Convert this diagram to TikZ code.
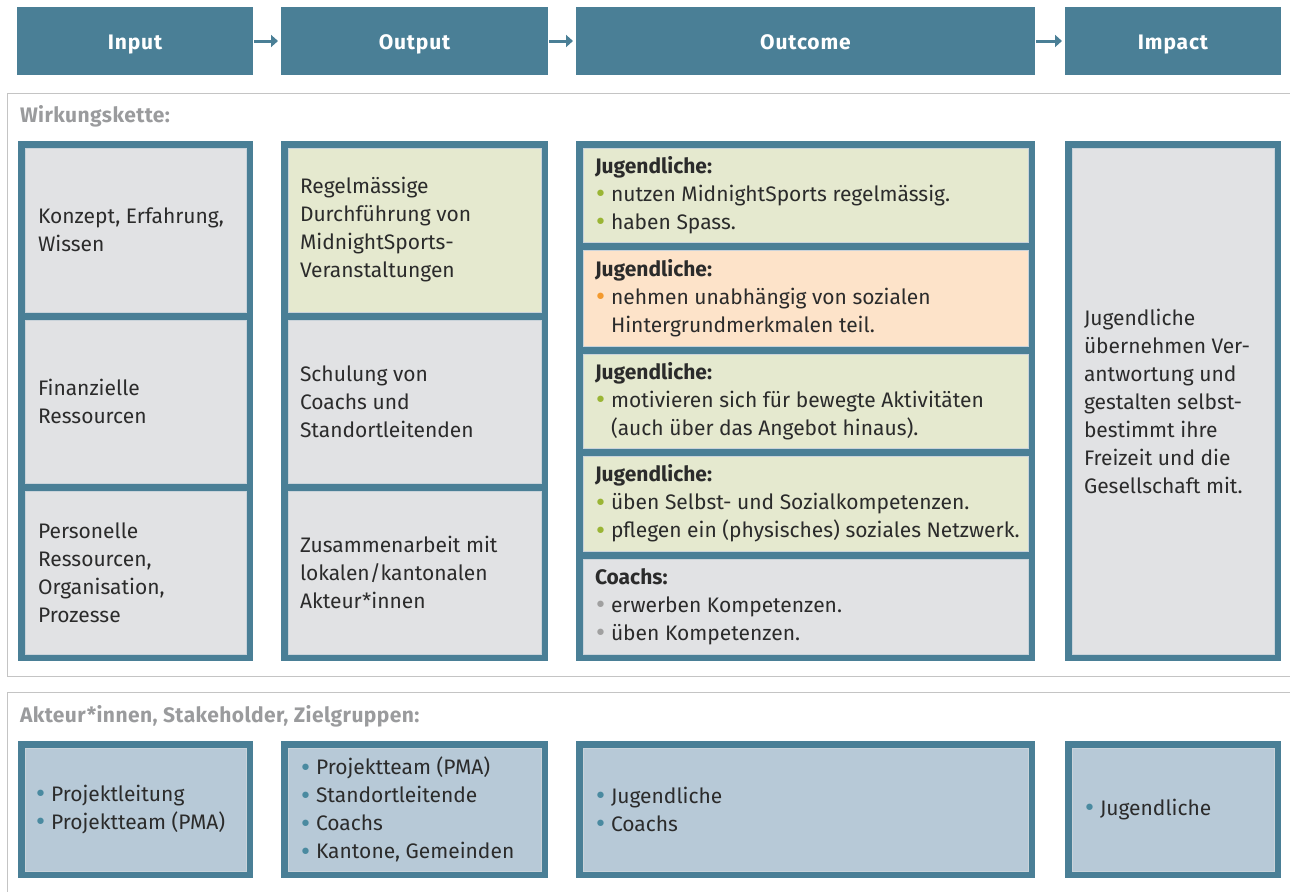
\documentclass[tikz,border=0pt]{standalone}
\usepackage{fontspec}
\setmainfont{Fira Sans}
\newfontfamily\dejavu{DejaVu Sans}
\usetikzlibrary{arrows.meta}
\definecolor{mteal}{HTML}{4A7F96}
\definecolor{cgray}{HTML}{E1E2E4}
\definecolor{cgreen}{HTML}{E5E9CF}
\definecolor{corange}{HTML}{FDE3C9}
\definecolor{cblue}{HTML}{B7C9D7}
\definecolor{cline}{HTML}{C9D3DA}
\definecolor{dtext}{HTML}{2B2B2B}
\definecolor{ltext}{HTML}{9A9B9D}
\definecolor{frameline}{HTML}{C4C4C4}
\definecolor{bgreen}{HTML}{9AB534}
\definecolor{borange}{HTML}{F39A2E}
\definecolor{bgray}{HTML}{A0A0A0}
\definecolor{bteal}{HTML}{4A8AA0}
\newcommand\bul[1]{\makebox[16pt][l]{\hspace*{-1pt}\color{#1}{\dejavu\fontsize{22}{0}\selectfont\raisebox{-0.5pt}{•}}}}
\newcommand\ind{\hspace*{16pt}}
\tikzset{
  every node/.style={inner sep=0pt, outer sep=0pt},
  hdr/.style={fill=mteal, anchor=north west, text=white, text height=18pt, text depth=1.6pt, font=\fontsize{21}{24}\selectfont\bfseries\addfontfeatures{LetterSpace=4}},
  colbox/.style={fill=mteal, anchor=north west},
  cellbox/.style={draw=cline, line width=0.6pt, anchor=north west},
  txt/.style={anchor=west, align=left, text=dtext, font=\fontsize{21}{28}\selectfont},
  sect/.style={anchor=base west, text=ltext, font=\fontsize{21}{24}\selectfont\bfseries\addfontfeatures{LetterSpace=2}},
  harrow/.style={draw=mteal, line width=3pt, -{Triangle[length=7pt,width=12pt]}},
}
\begin{document}
\begin{tikzpicture}[x=1pt,y=-1pt]
\useasboundingbox (0,0) rectangle (1290,892);
% headers
\node[hdr, minimum width=236pt, minimum height=68pt] (hin) at (17,7) {Input};
\node[hdr, minimum width=267pt, minimum height=68pt] (hout) at (281,7) {Output};
\node[hdr, minimum width=459pt, minimum height=68pt] (hoc) at (576,7) {Outcome};
\node[hdr, minimum width=216pt, minimum height=68pt] (him) at (1065,7) {Impact};
\draw[harrow] (hin.east) ++(1,0) -- ([xshift=-3pt]hout.west);
\draw[harrow] (hout.east) ++(1,0) -- ([xshift=-3pt]hoc.west);
\draw[harrow] (hoc.east) ++(1,0) -- ([xshift=-3pt]him.west);
% frames
\draw[frameline, line width=1pt] (1290,93) -- (7,93) -- (7,676) -- (1290,676);
\draw[frameline, line width=1pt] (1290,692) -- (7,692) -- (7,892);
\node[sect] (s1) at (20,122) {Wirkungskette:};
\node[sect] (s2) at (20,722) {Akteur*innen, Stakeholder, Zielgruppen:};
% ---- Input column
\node[colbox, minimum width=235pt, minimum height=520pt] (cin) at (18,141) {};
\node[cellbox, fill=cgray, minimum width=221pt, minimum height=164pt] (in1) at (25,148) {};
\node[cellbox, fill=cgray, minimum width=221pt, minimum height=163pt] (in2) at (25,320) {};
\node[cellbox, fill=cgray, minimum width=221pt, minimum height=163pt] (in3) at (25,491) {};
\node[txt] (tin1) at ([xshift=13pt]in1.west) {Konzept, Erfahrung,\\Wissen};
\node[txt] (tin2) at ([xshift=13pt]in2.west) {Finanzielle\\Ressourcen};
\node[txt] (tin3) at ([xshift=13pt]in3.west) {Personelle\\Ressourcen,\\Organisation,\\Prozesse};
% ---- Output column
\node[colbox, minimum width=267pt, minimum height=520pt] (cout) at (281,141) {};
\node[cellbox, fill=cgreen, minimum width=253pt, minimum height=164pt] (out1) at (288,148) {};
\node[cellbox, fill=cgray, minimum width=253pt, minimum height=163pt] (out2) at (288,320) {};
\node[cellbox, fill=cgray, minimum width=253pt, minimum height=163pt] (out3) at (288,491) {};
\node[txt] (tout1) at ([xshift=12pt]out1.west) {Regelmässige\\Durchführung von\\MidnightSports-\\Veranstaltungen};
\node[txt] (tout2) at ([xshift=12pt]out2.west) {Schulung von\\Coachs und\\Standortleitenden};
\node[txt] (tout3) at ([xshift=12pt]out3.west) {Zusammenarbeit mit\\lokalen/kantonalen\\Akteur*innen};
% ---- Outcome column
\node[colbox, minimum width=459pt, minimum height=520pt] (coc) at (576,141) {};
\node[cellbox, fill=cgreen, minimum width=445pt, minimum height=94pt] (oc1) at (583,148) {};
\node[cellbox, fill=corange, minimum width=445pt, minimum height=96pt] (oc2) at (583,250) {};
\node[cellbox, fill=cgreen, minimum width=445pt, minimum height=94pt] (oc3) at (583,354) {};
\node[cellbox, fill=cgreen, minimum width=445pt, minimum height=95pt] (oc4) at (583,456) {};
\node[cellbox, fill=cgray, minimum width=445pt, minimum height=95pt] (oc5) at (583,559) {};
\node[txt] (toc1) at ([xshift=12pt]oc1.west) {\textbf{Jugendliche:}\\\bul{bgreen}nutzen MidnightSports regelmässig.\\\bul{bgreen}haben Spass.};
\node[txt] (toc2) at ([xshift=12pt]oc2.west) {\textbf{Jugendliche:}\\\bul{borange}nehmen unabhängig von sozialen\\\ind Hintergrundmerkmalen teil.};
\node[txt] (toc3) at ([xshift=12pt]oc3.west) {\textbf{Jugendliche:}\\\bul{bgreen}motivieren sich für bewegte Aktivitäten\\\ind (auch über das Angebot hinaus).};
\node[txt] (toc4) at ([xshift=12pt]oc4.west) {\textbf{Jugendliche:}\\\bul{bgreen}üben Selbst- und Sozialkompetenzen.\\\bul{bgreen}pflegen ein (physisches) soziales Netzwerk.};
\node[txt] (toc5) at ([xshift=12pt]oc5.west) {\textbf{Coachs:}\\\bul{bgray}erwerben Kompetenzen.\\\bul{bgray}üben Kompetenzen.};
% ---- Impact column
\node[colbox, minimum width=216pt, minimum height=520pt] (cim) at (1065,141) {};
\node[cellbox, fill=cgray, minimum width=202pt, minimum height=506pt] (im1) at (1072,148) {};
\node[txt] (tim1) at ([xshift=12pt]im1.west) {Jugendliche\\übernehmen Ver-\\antwortung und\\gestalten selbst-\\bestimmt ihre\\Freizeit und die\\Gesellschaft mit.};
% ---- Bottom row
\node[colbox, minimum width=235pt, minimum height=137pt] (bin) at (18,741) {};
\node[cellbox, fill=cblue, minimum width=221pt, minimum height=123pt] (bin1) at (25,748) {};
\node[txt] (tbin) at ([xshift=10pt]bin1.west) {\bul{bteal}Projektleitung\\\bul{bteal}Projektteam (PMA)};
\node[colbox, minimum width=267pt, minimum height=137pt] (bout) at (281,741) {};
\node[cellbox, fill=cblue, minimum width=253pt, minimum height=123pt] (bout1) at (288,748) {};
\node[txt] (tbout) at ([xshift=12pt]bout1.west) {\bul{bteal}Projektteam (PMA)\\\bul{bteal}Standortleitende\\\bul{bteal}Coachs\\\bul{bteal}Kantone, Gemeinden};
\node[colbox, minimum width=459pt, minimum height=137pt] (boc) at (576,741) {};
\node[cellbox, fill=cblue, minimum width=445pt, minimum height=123pt] (boc1) at (583,748) {};
\node[txt] (tboc) at ([xshift=12pt]boc1.west) {\bul{bteal}Jugendliche\\\bul{bteal}Coachs};
\node[colbox, minimum width=216pt, minimum height=137pt] (bim) at (1065,741) {};
\node[cellbox, fill=cblue, minimum width=202pt, minimum height=123pt] (bim1) at (1072,748) {};
\node[txt] (tbim) at ([xshift=12pt]bim1.west) {\bul{bteal}Jugendliche};
\end{tikzpicture}
\end{document}
